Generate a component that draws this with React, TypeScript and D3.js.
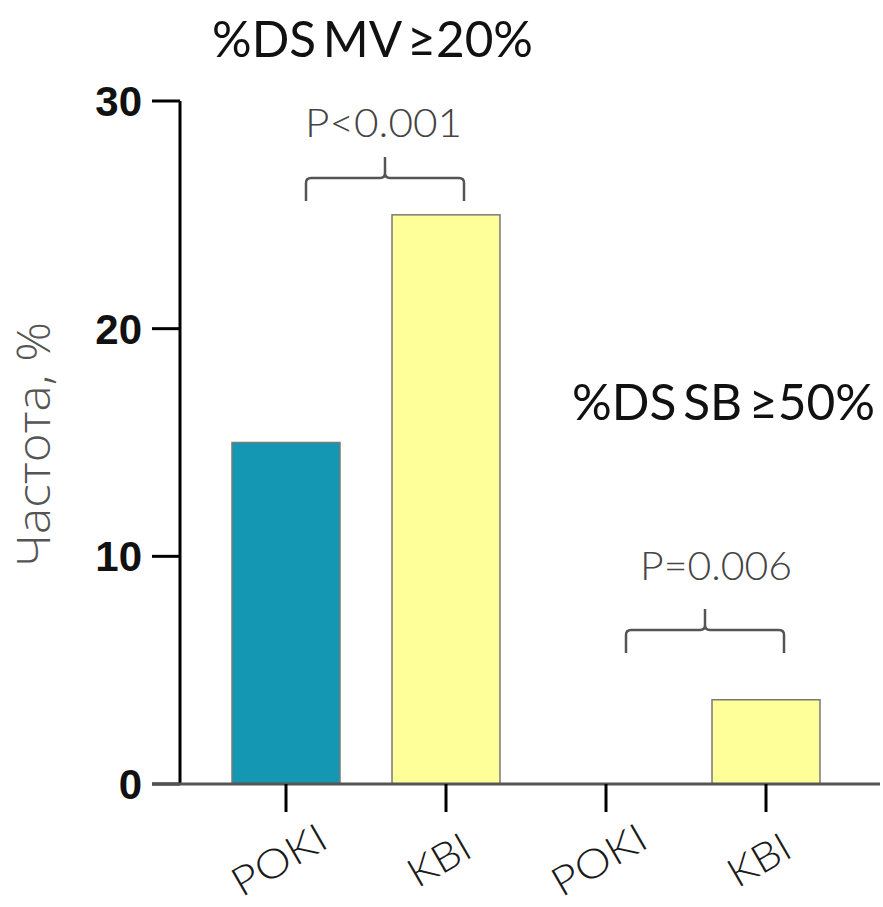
import React from "react";
import * as d3 from "d3";

const categories = ["POKI", "KBI", "POKI ", "KBI "];
const values = [15, 25, 0, 3.7];
const barColors = ["#1497B2", "#FFFF99", "#1497B2", "#FFFF99"];
const yTicks = [0, 10, 20, 30];
const groupTitles = ["%DS MV ≥20%", "%DS SB ≥50%"];
const pLabels = ["P<0.001", "P=0.006"];

export default function App() {
  const W = 883, H = 907;
  const y = d3.scaleLinear().domain([0, 30]).range([784, 101]);
  const x = d3.scaleBand().domain(categories).range([206, 846]).paddingInner(0.325).paddingOuter(0.1625);
  const axisX = 180;
  const font = "Lato, 'Open Sans', sans-serif";

  const brackets = [
    { a: categories[0], b: categories[1], yb: 178, p: pLabels[0], len: 157, px: 305, py: 137 },
    { a: categories[2], b: categories[3], yb: 630, p: pLabels[1], len: 152, px: 640, py: 580 },
  ];
  const xLabelLen: Record<string, number> = { POKI: 103, KBI: 66 };

  return (
    <svg width={W} height={H} style={{ position: "absolute", left: 0, top: 0, background: "#fff" }}>
      {/* titles */}
      <text x={212} y={57} fontFamily={font} fontSize={50} wordSpacing={-6} textLength={321} lengthAdjust="spacingAndGlyphs" fill="#111">{groupTitles[0]}</text>
      <text x={572} y={420} fontFamily={font} fontSize={50} wordSpacing={-6} textLength={303} lengthAdjust="spacingAndGlyphs" fill="#111">{groupTitles[1]}</text>

      {/* bars */}
      {categories.map((c, i) =>
        values[i] > 0 ? (
          <rect key={c} x={x(c)!} y={y(values[i])} width={x.bandwidth()} height={y(0) - y(values[i])}
            fill={barColors[i]} stroke="#7a7a7a" strokeWidth={1.5} />
        ) : null
      )}

      {/* y axis */}
      <line x1={axisX} x2={axisX} y1={y(30)} y2={y(0)} stroke="#000" strokeWidth={3} />
      {yTicks.map((t) => (
        <g key={t}>
          <line x1={152} x2={axisX} y1={y(t)} y2={y(t)} stroke="#000" strokeWidth={3} />
          <text x={142} y={y(t)} dy="0.36em" textAnchor="end" fontFamily="'Liberation Sans', Arial, sans-serif"
            fontWeight="bold" fontSize={42} fill="#111">{t}</text>
        </g>
      ))}
      <text transform={`translate(50,${567}) rotate(-90)`} textAnchor="start" fontFamily="'Open Sans', sans-serif" fontSize={46}
        textLength={245} lengthAdjust="spacingAndGlyphs" fill="#555" fontWeight={300}>Частота, %</text>

      {/* x axis */}
      <line x1={152} x2={880} y1={y(0)} y2={y(0)} stroke="#555" strokeWidth={3} />
      {categories.map((c) => {
        const cx = x(c)! + x.bandwidth() / 2;
        const lbl = c.trim();
        return (
          <g key={c}>
            <line x1={cx} x2={cx} y1={y(0)} y2={y(0) + 28} stroke="#000" strokeWidth={3} />
            <text transform={`translate(${cx - 7},${860}) rotate(-30)`} textAnchor="middle" dy={14}
              fontFamily={font} fontSize={40} textLength={xLabelLen[lbl]} lengthAdjust="spacingAndGlyphs"
              fill="#1a1a1a" fontWeight={300}>{lbl}</text>
          </g>
        );
      })}

      {/* brackets */}
      {brackets.map((b, i) => {
        const x1 = x(b.a)! + x.bandwidth() / 2 + 20;
        const x2 = x(b.b)! + x.bandwidth() / 2 + 18;
        const mid = (x1 + x2) / 2;
        const yb = b.yb;
        const ye = yb + 23;
        const yt = yb - 21;
        const r = 5;
        const path = `M${x1},${ye} L${x1},${yb + r} Q${x1},${yb} ${x1 + r},${yb} L${mid - r},${yb} Q${mid},${yb} ${mid},${yb - r} L${mid},${yt} M${mid},${yb - r} Q${mid},${yb} ${mid + r},${yb} L${x2 - r},${yb} Q${x2},${yb} ${x2},${yb + r} L${x2},${ye}`;
        return (
          <g key={i}>
            <path d={path} fill="none" stroke="#555" strokeWidth={2.5} />
            <text x={b.px} y={b.py} fontFamily={font} fontSize={39} textLength={b.len} lengthAdjust="spacingAndGlyphs"
              fill="#444" fontWeight={300}>{b.p}</text>
          </g>
        );
      })}
    </svg>
  );
}
